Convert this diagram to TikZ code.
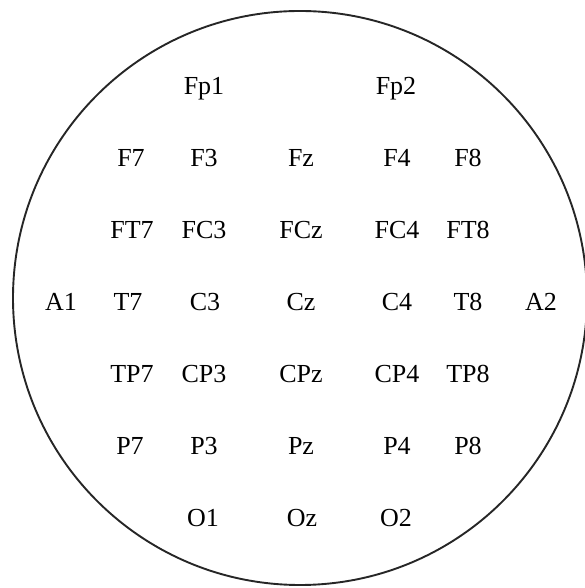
\documentclass[tikz,border=0pt]{standalone}
\usepackage{fontspec}
\setmainfont{Liberation Serif}
\begin{document}
\begin{tikzpicture}[x=1pt,y=1pt,
  lbl/.style={anchor=base,inner sep=0pt,font=\fontsize{26}{28}\selectfont,text=black}]
\useasboundingbox (0,0) rectangle (584,588);
\node[draw=black!85,line width=1.9pt,circle,minimum size=574pt,inner sep=0pt] (head) at (300,290) {};
% rows (baselines)
\def\rA{493}\def\rB{421}\def\rC{349}\def\rD{277}\def\rE{205}\def\rF{133}\def\rG{61}
\node[lbl] (Fp1) at (204,\rA) {Fp1};
\node[lbl] (Fp2) at (396,\rA) {Fp2};
\node[lbl] (F7) at (131,\rB) {F7};
\node[lbl] (F3) at (204,\rB) {F3};
\node[lbl] (Fz) at (301,\rB) {Fz};
\node[lbl] (F4) at (397,\rB) {F4};
\node[lbl] (F8) at (468,\rB) {F8};
\node[lbl] (FT7) at (132,\rC) {FT7};
\node[lbl] (FC3) at (204,\rC) {FC3};
\node[lbl] (FCz) at (301,\rC) {FCz};
\node[lbl] (FC4) at (397,\rC) {FC4};
\node[lbl] (FT8) at (468,\rC) {FT8};
\node[lbl] (A1) at (61,\rD) {A1};
\node[lbl] (T7) at (128,\rD) {T7};
\node[lbl] (C3) at (205,\rD) {C3};
\node[lbl] (Cz) at (301,\rD) {Cz};
\node[lbl] (C4) at (397,\rD) {C4};
\node[lbl] (T8) at (468,\rD) {T8};
\node[lbl] (A2) at (541,\rD) {A2};
\node[lbl] (TP7) at (132,\rE) {TP7};
\node[lbl] (CP3) at (204,\rE) {CP3};
\node[lbl] (CPz) at (301,\rE) {CPz};
\node[lbl] (CP4) at (397,\rE) {CP4};
\node[lbl] (TP8) at (468,\rE) {TP8};
\node[lbl] (P7) at (130,\rF) {P7};
\node[lbl] (P3) at (204,\rF) {P3};
\node[lbl] (Pz) at (301,\rF) {Pz};
\node[lbl] (P4) at (397,\rF) {P4};
\node[lbl] (P8) at (468,\rF) {P8};
\node[lbl] (O1) at (203,\rG) {O1};
\node[lbl] (Oz) at (302,\rG) {Oz};
\node[lbl] (O2) at (396,\rG) {O2};
\end{tikzpicture}
\end{document}
